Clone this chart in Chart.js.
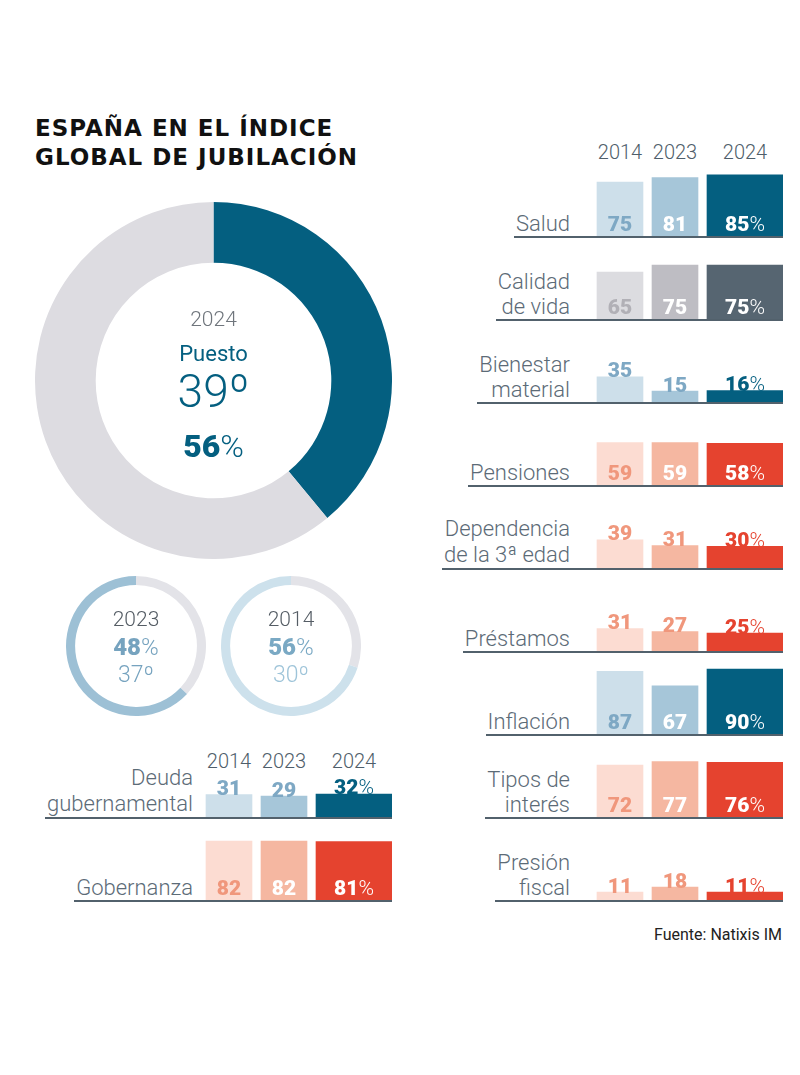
<!DOCTYPE html>
<html><head><meta charset="utf-8">
<script src="https://cdn.jsdelivr.net/npm/chart.js@4.4.1/dist/chart.umd.min.js"></script>
<style>
html,body{margin:0;padding:0;background:#fff;}
#page{position:relative;width:800px;height:1075px;overflow:hidden;font-family:Roboto,"Liberation Sans",sans-serif;}
.t{position:absolute;white-space:nowrap;line-height:1;}
.row{position:absolute;display:flex;align-items:flex-end;border-bottom:2px solid #52616c;}
.lab{font-weight:300;font-size:22px;color:#5c6b77;text-align:right;white-space:nowrap;padding-left:2px;}
.ring{position:absolute;display:block;}
.num{font-family:Roboto,sans-serif;font-weight:900;}
.pct{font-family:Roboto,sans-serif;font-weight:300;}
</style></head><body><div id="page"></div>
<script>
// ---------- DATA ----------
const YEARS = ['2014', '2023', '2024'];
const RANK_MAX = 100;
const RANK_2024 = 39, SCORE_2024 = 56;
const RANK_2023 = 37, SCORE_2023 = 48;
const RANK_2014 = 30, SCORE_2014 = 56;

const salud       = [75, 81, 85];
const calidadVida = [65, 75, 75];
const bienestar   = [35, 15, 16];
const pensiones   = [59, 59, 58];
const dependencia = [39, 31, 30];
const prestamos   = [31, 27, 25];
const inflacion   = [87, 67, 90];
const tipos       = [72, 77, 76];
const presion     = [11, 18, 11];
const deuda       = [31, 29, 32];
const gobernanza  = [82, 82, 81];

// ---------- STYLE / LAYOUT ----------
const PAL = {
  blue: { bar: ['#cddfea', '#a6c6d9', '#045f80'], inText: ['#7ea8c4', '#ffffff', '#ffffff'], outText: ['#7ea8c4', '#7ea8c4', '#045f80'] },
  gray: { bar: ['#dcdce0', '#bebdc3', '#566571'], inText: ['#b1b0b6', '#ffffff', '#ffffff'], outText: ['#b1b0b6', '#b1b0b6', '#566571'] },
  red:  { bar: ['#fcdcd2', '#f5b7a1', '#e5432f'], inText: ['#f0977c', '#ffffff', '#ffffff'], outText: ['#f0977c', '#f0977c', '#e5432f'] }
};
const CW = 193, CH = 80, PX_PER_UNIT = 0.72;
const BAR_W = [46, 46, 76], BAR_GAP = 9, BAR_PAD = 7;
const BAR_CENTERS = (() => { let x = BAR_PAD; return BAR_W.map(w => { const c = x + w / 2; x += w + BAR_GAP; return c; }); })();
const INSIDE_MIN = 45;
const NUM_FONT = 'Roboto, "Liberation Sans", sans-serif';
const PCT_FONT = 'Roboto, "Liberation Sans", sans-serif';

const page = document.getElementById('page');

function txt(html, x, base, size, style, align) {
  const d = document.createElement('div');
  d.className = 't';
  d.innerHTML = html;
  d.style.fontSize = size + 'px';
  d.style.top = (base - 0.842 * size) + 'px';
  if (align === 'center') { d.style.left = x + 'px'; d.style.transform = 'translateX(-50%)'; }
  else if (align === 'right') { d.style.right = (800 - x) + 'px'; }
  else { d.style.left = x + 'px'; }
  Object.assign(d.style, style || {});
  page.appendChild(d);
  return d;
}
const score = (v) => '<span class="num">' + v + '</span><span class="pct">%</span>';

// Title
const title = document.createElement('div');
title.className = 't';
title.innerHTML = 'ESPAÑA EN EL ÍNDICE<br>GLOBAL DE JUBILACIÓN';
Object.assign(title.style, { left: '35px', top: '114px', fontSize: '23px', lineHeight: '28.5px', fontWeight: '700', fontFamily: '"DejaVu Sans", sans-serif', letterSpacing: '1px', color: '#111' });
page.appendChild(title);

// ---------- Value label plugin ----------
function drawValue(ctx, x, y, v, withPct, color) {
  const a = String(v), b = withPct ? '%' : '';
  ctx.font = '900 21px ' + NUM_FONT;
  const wa = ctx.measureText(a).width;
  ctx.font = '300 21px ' + PCT_FONT;
  const wb = b ? ctx.measureText(b).width : 0;
  const x0 = x - (wa + wb) / 2;
  ctx.fillStyle = color;
  ctx.textBaseline = 'alphabetic';
  ctx.textAlign = 'left';
  ctx.font = '900 21px ' + NUM_FONT;
  ctx.fillText(a, x0, y);
  if (b) { ctx.font = '300 21px ' + PCT_FONT; ctx.fillText(b, x0 + wa, y); }
}
const valueLabels = {
  id: 'valueLabels',
  afterDatasetsDraw(chart, args, opts) {
    const ctx = chart.ctx;
    ctx.save();
    chart.data.datasets.forEach((ds, i) => {
      const el = chart.getDatasetMeta(i).data[0];
      const v = ds.data[0].y;
      const inside = v >= INSIDE_MIN;
      const y = inside ? el.base - 5 : el.y + 0.5;
      const color = inside ? opts.pal.inText[i] : opts.pal.outText[i];
      drawValue(ctx, el.x, y, v, i === 2, color);
    });
    ctx.restore();
  }
};

function barRow(cfg) {
  const row = document.createElement('div');
  row.className = 'row';
  row.style.right = (800 - cfg.right) + 'px';
  row.style.top = (cfg.base - 1 - CH) + 'px';
  const lab = document.createElement('div');
  lab.className = 'lab';
  lab.innerHTML = cfg.label;
  lab.style.lineHeight = (cfg.lh || 25) + 'px';
  lab.style.marginRight = cfg.gap + 'px';
  const cv = document.createElement('canvas');
  cv.width = CW; cv.height = CH;
  cv.style.width = CW + 'px'; cv.style.height = CH + 'px'; cv.style.display = 'block';
  row.appendChild(lab); row.appendChild(cv);
  page.appendChild(row);
  const pal = PAL[cfg.pal];
  new Chart(cv, {
    type: 'bar',
    data: {
      datasets: YEARS.map((yr, i) => ({
        label: yr,
        data: [{ x: BAR_CENTERS[i], y: cfg.values[i] }],
        backgroundColor: pal.bar[i],
        barThickness: BAR_W[i],
        grouped: false,
        borderWidth: 0
      }))
    },
    options: {
      responsive: false, animation: false, events: [],
      layout: { padding: 0 },
      scales: {
        x: { type: 'linear', min: 0, max: CW, offset: false, display: false },
        y: { min: 0, max: CH / PX_PER_UNIT, display: false }
      },
      plugins: { legend: { display: false }, tooltip: { enabled: false }, valueLabels: { pal } }
    },
    plugins: [valueLabels]
  });
}

// Year headers
const RIGHT_X = 783, LEFT_X = 392;
YEARS.forEach((y, i) => {
  txt(y, RIGHT_X - CW + BAR_CENTERS[i], 158.5, 20, { fontWeight: '300', color: '#4f5e6a' }, 'center');
  txt(y, LEFT_X - CW + BAR_CENTERS[i], 768.3, 20, { fontWeight: '300', color: '#4f5e6a' }, 'center');
});

const rows = [
  { label: 'Salud', values: salud, pal: 'blue', base: 237, right: RIGHT_X, gap: 20 },
  { label: 'Calidad<br>de vida', values: calidadVida, pal: 'gray', base: 320, right: RIGHT_X, gap: 20 },
  { label: 'Bienestar<br>material', values: bienestar, pal: 'blue', base: 403, right: RIGHT_X, gap: 20 },
  { label: 'Pensiones', values: pensiones, pal: 'red', base: 486, right: RIGHT_X, gap: 20 },
  { label: 'Dependencia<br>de la 3ª edad', values: dependencia, pal: 'red', base: 569, right: RIGHT_X, gap: 20, lh: 26 },
  { label: 'Préstamos', values: prestamos, pal: 'red', base: 652, right: RIGHT_X, gap: 20 },
  { label: 'Inflación', values: inflacion, pal: 'blue', base: 735, right: RIGHT_X, gap: 20 },
  { label: 'Tipos de<br>interés', values: tipos, pal: 'red', base: 818, right: RIGHT_X, gap: 20 },
  { label: 'Presión<br>fiscal', values: presion, pal: 'red', base: 901, right: RIGHT_X, gap: 20 },
  { label: 'Deuda<br>gubernamental', values: deuda, pal: 'blue', base: 818, right: LEFT_X, gap: 6, lh: 26 },
  { label: 'Gobernanza', values: gobernanza, pal: 'red', base: 901, right: LEFT_X, gap: 6 }
];
rows.forEach(barRow);

// ---------- Doughnuts ----------
function ring(left, top, size, data, colors, cutout) {
  const cv = document.createElement('canvas');
  cv.className = 'ring';
  cv.width = size; cv.height = size;
  cv.style.left = left + 'px'; cv.style.top = top + 'px';
  cv.style.width = size + 'px'; cv.style.height = size + 'px';
  page.appendChild(cv);
  new Chart(cv, {
    type: 'doughnut',
    data: { datasets: [{ data, backgroundColor: colors, borderWidth: 0, hoverOffset: 0 }] },
    options: {
      responsive: false, animation: false, events: [], cutout,
      layout: { padding: 0 },
      plugins: { legend: { display: false }, tooltip: { enabled: false } }
    }
  });
}
ring(35, 202, 357, [RANK_2024, RANK_MAX - RANK_2024], ['#045f80', '#dddce1'], '66%');
ring(66, 576, 140, [RANK_2023, RANK_MAX - RANK_2023], ['#e3e3e8', '#9dc0d5'], '87%');
ring(221, 576, 140, [RANK_2014, RANK_MAX - RANK_2014], ['#e3e3e8', '#cde1ec'], '87%');

// Center texts
txt(YEARS[2], 213.5, 327, 21, { fontWeight: '300', color: '#6f757c' }, 'center');
txt('Puesto', 213.5, 362, 22, { fontWeight: '400', color: '#045f80' }, 'center');
txt(RANK_2024 + 'º', 213.5, 407, 46, { fontWeight: '300', color: '#045f80' }, 'center');
txt(score(SCORE_2024), 213.5, 457, 32, { color: '#045f80' }, 'center');

txt(YEARS[1], 136, 627, 21, { fontWeight: '300', color: '#555d65' }, 'center');
txt(score(SCORE_2023), 136, 655, 24, { color: '#76a3bf' }, 'center');
txt(RANK_2023 + 'º', 136, 682, 23, { fontWeight: '300', color: '#76a3bf' }, 'center');

txt(YEARS[0], 291, 627, 21, { fontWeight: '300', color: '#555d65' }, 'center');
txt(score(SCORE_2014), 291, 655, 24, { color: '#7aa9c4' }, 'center');
txt(RANK_2014 + 'º', 291, 682, 23, { fontWeight: '300', color: '#9ec4d9' }, 'center');

// Source
txt('Fuente: Natixis IM', 782, 940, 16, { fontWeight: '400', color: '#222' }, 'right');
</script></body></html>
